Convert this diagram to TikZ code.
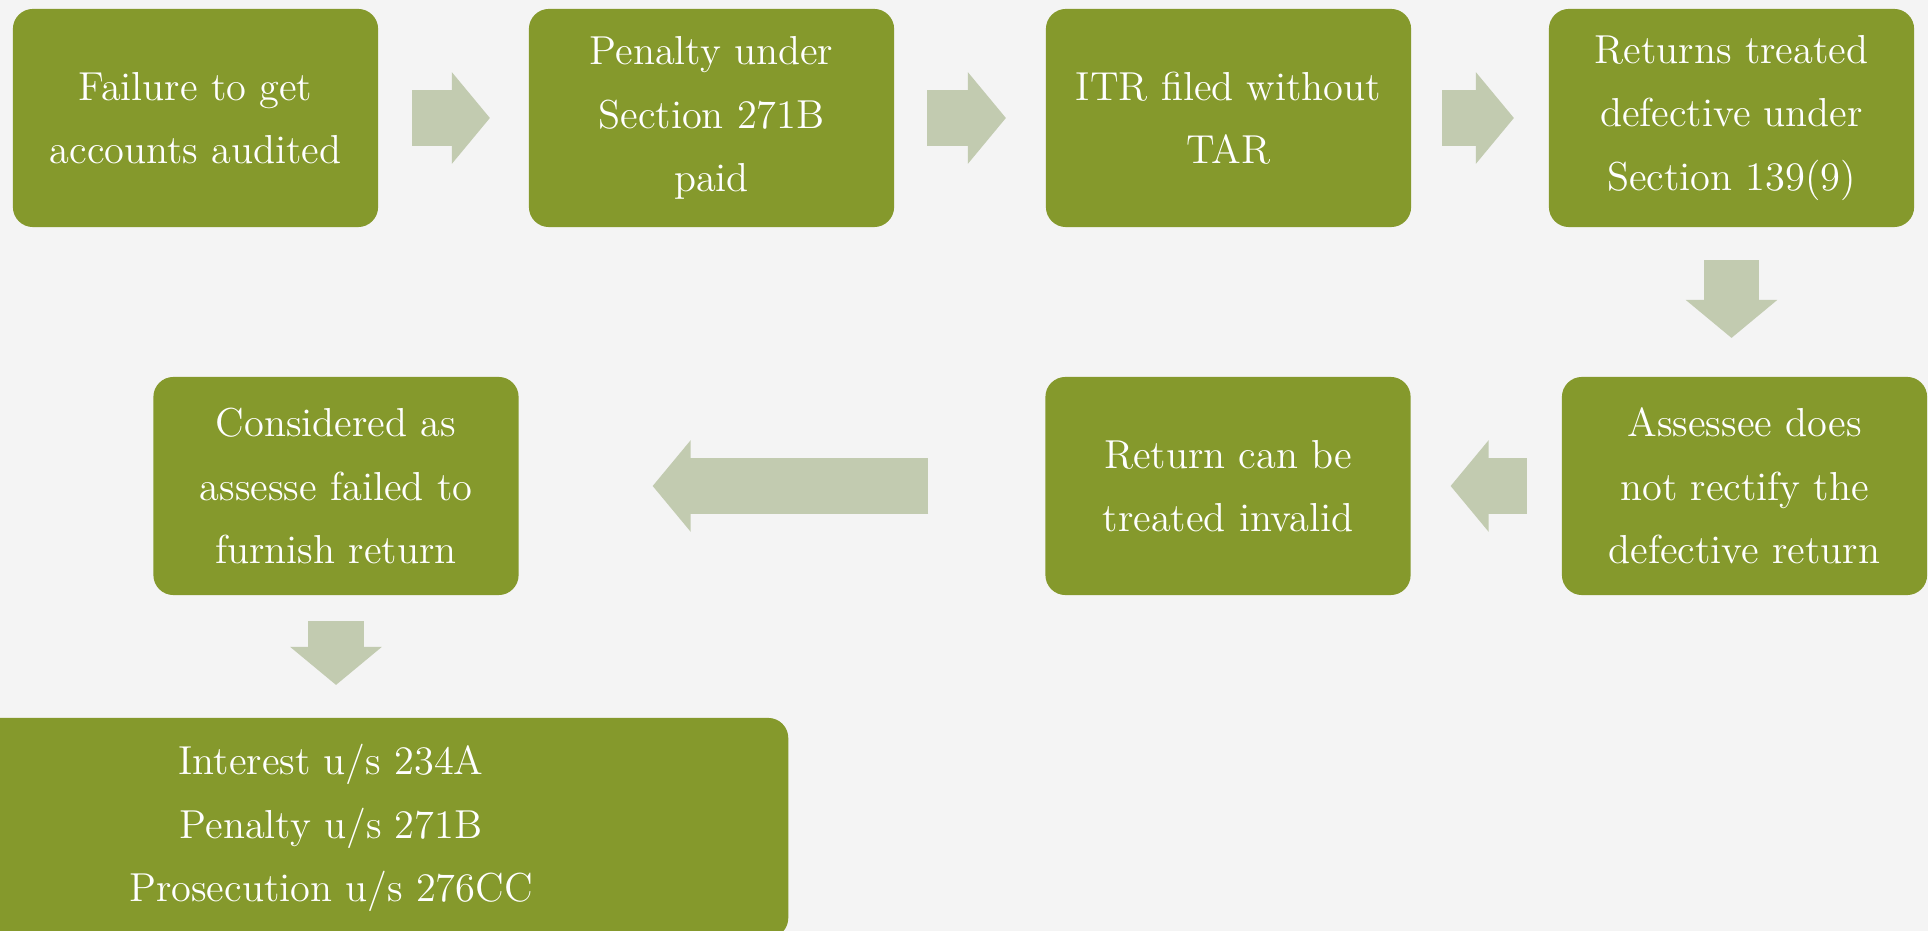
\documentclass[tikz,border=0pt]{standalone}
\usepackage{tikz}
\usetikzlibrary{arrows.meta}
\definecolor{boxgreen}{RGB}{133,153,44}
\definecolor{arrowgreen}{RGB}{194,203,176}
\definecolor{paper}{RGB}{244,244,244}
\pgfdeclarelayer{edgelayer}
\pgfdeclarelayer{nodelayer}
\pgfsetlayers{edgelayer,nodelayer,main}
\tikzstyle{stepbox}=[rectangle, rounded corners=0.2cm, fill=boxgreen, text=white, align=center, minimum width=3.65cm, minimum height=2.18cm, inner sep=0pt, outer sep=0pt, font=\fontsize{11.5}{18}\selectfont]
\tikzstyle{flowarrow}=[draw=arrowgreen, line width=0.55cm, -{Triangle[length=0.38cm, width=0.91cm, line width=1pt]}]

\begin{document}
\begin{tikzpicture}[x=0.01cm, y=-0.01cm]
	\useasboundingbox (0, 0) rectangle (1928, 931);
	\begin{pgfonlayer}{nodelayer}
		\node [style=stepbox] (1) at (195.5, 118) {Failure to get\\accounts audited};
		\node [style=stepbox] (2) at (711.5, 118) {Penalty under\\Section 271B\\paid};
		\node [style=stepbox] (3) at (1228.5, 118) {ITR filed without\\TAR};
		\node [style=stepbox] (4) at (1731.5, 118) {Returns treated\\defective under\\Section 139(9)};
		\node [style=stepbox] (5) at (1744.5, 486) {Assessee does\\not rectify the\\defective return};
		\node [style=stepbox] (6) at (1228, 486) {Return can be\\treated invalid};
		\node [style=stepbox] (7) at (336, 486) {Considered as\\assesse failed to\\furnish return};
		\node [style=stepbox, minimum width=9.14cm, minimum height=2.2cm] (8) at (331, 828) {Interest u/s 234A\\Penalty u/s 271B\\Prosecution u/s 276CC};
	\end{pgfonlayer}
	\begin{pgfonlayer}{edgelayer}
		\fill [paper] (0, 0) rectangle (1928, 931);
		\draw [style=flowarrow, shorten <=0.34cm, shorten >=0.39cm] (1.east) -- (2.west);
		\draw [style=flowarrow, shorten <=0.33cm, shorten >=0.40cm] (2.east) -- (3.west);
		\draw [style=flowarrow, shorten <=0.31cm, shorten >=0.35cm] (3.east) -- (4.west);
		\draw [style=flowarrow, shorten <=0.33cm, shorten >=0.39cm] (4.south) -- (4.south |- 5.north);
		\draw [style=flowarrow, shorten <=0.35cm, shorten >=0.40cm] (5.west) -- (6.east);
		\draw [style=flowarrow, shorten <=1.17cm, shorten >=1.34cm] (6.west) -- (7.east);
		\draw [style=flowarrow, shorten <=0.26cm, shorten >=0.33cm] (7.south) -- (8.north -| 7.south);
	\end{pgfonlayer}
\end{tikzpicture}
\end{document}
